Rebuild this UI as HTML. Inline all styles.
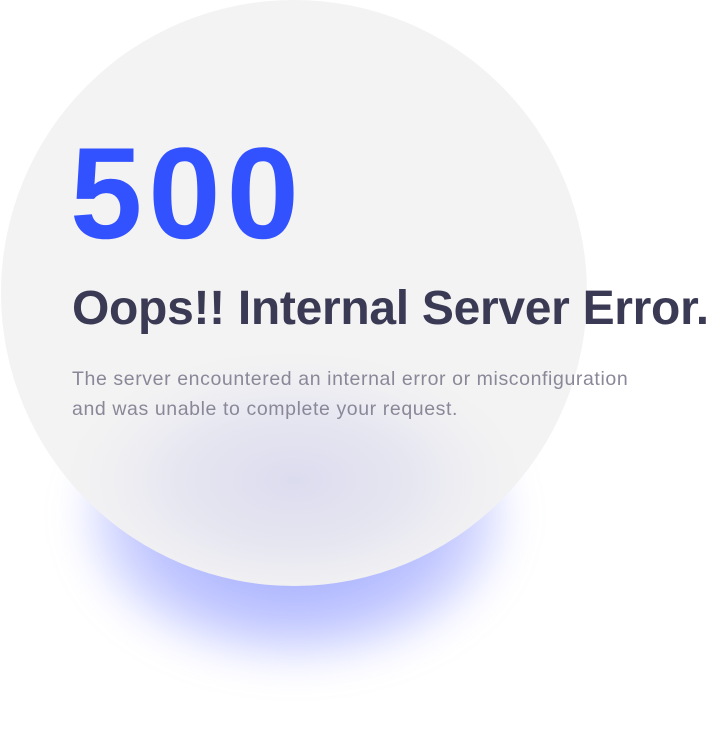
<!DOCTYPE html>
<html><head><style>
html,body{margin:0;padding:0;background:#fff;width:712px;height:733px;overflow:hidden;position:relative;font-family:"Liberation Sans",sans-serif}
.glow{position:absolute;left:85px;top:370px;width:420px;height:290px;border-radius:50%;
background:radial-gradient(ellipse at 50% 50%, rgba(80,100,255,0.6) 0%, rgba(100,115,255,0.42) 50%, rgba(150,160,255,0.12) 75%, rgba(255,255,255,0) 100%);filter:blur(20px)}
.circle{position:absolute;left:1px;top:0;width:586px;height:586px;border-radius:50%;
background:radial-gradient(ellipse 230px 130px at 50% 82%, #dcdcef 0%, #e6e6f1 50%, #f0f0f3 80%, #f3f3f3 100%),#f3f3f3}
h1{position:absolute;left:70px;top:118px;margin:0;font-size:130px;font-weight:bold;color:#3352ff;letter-spacing:6px}
h2{position:absolute;left:72px;top:281px;margin:0;font-size:48px;font-weight:bold;color:#3b3a54;letter-spacing:-0.3px;white-space:nowrap}
p{position:absolute;left:72px;top:364px;margin:0;font-size:19.5px;line-height:30px;color:#8a8898;width:660px;letter-spacing:0.6px}
</style></head><body>
<div class="glow"></div>
<div class="circle"></div>
<h1>500</h1>
<h2>Oops!! Internal Server Error.</h2>
<p>The server encountered an internal error or misconfiguration<br>and was unable to complete your request.</p>
</body></html>
